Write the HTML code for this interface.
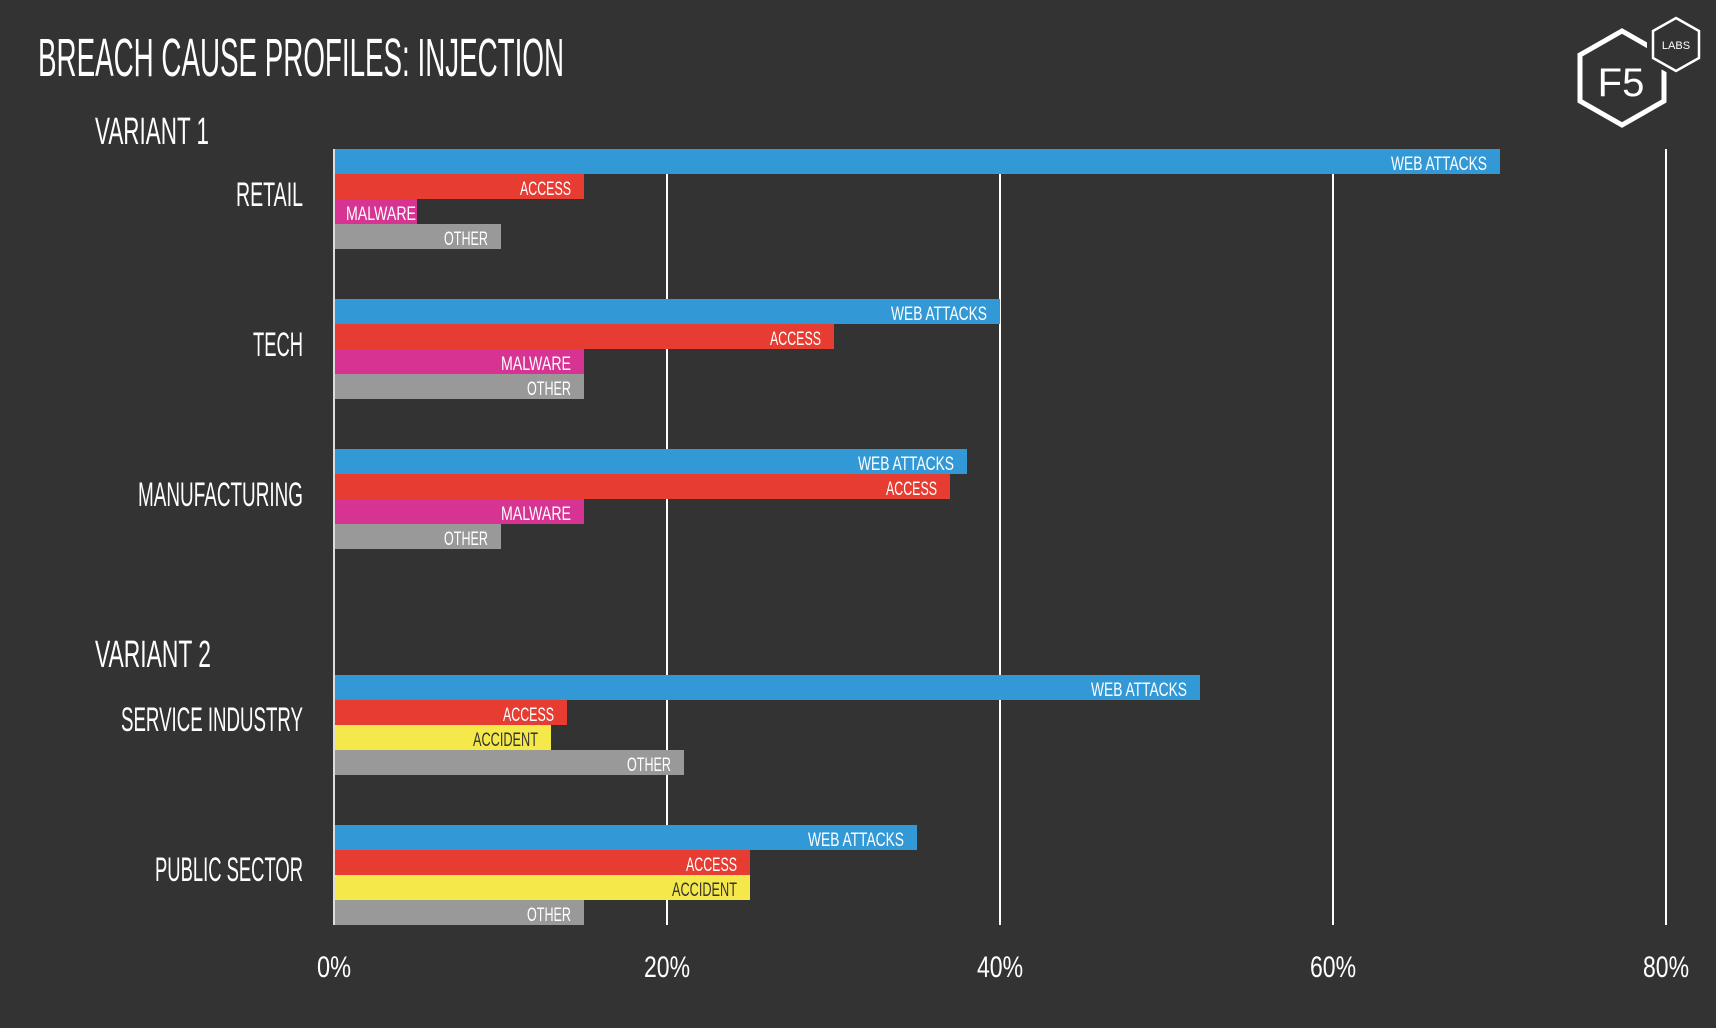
<!DOCTYPE html>
<html><head><meta charset="utf-8"><style>
html,body{margin:0;padding:0;background:#333;}
svg{display:block}
text{font-family:"Liberation Sans",sans-serif;}
</style></head><body>
<svg width="1716" height="1028" viewBox="0 0 1716 1028" xmlns="http://www.w3.org/2000/svg">
<rect width="1716" height="1028" fill="#333333"/>
<text x="38" y="76" font-size="54" fill="#fff" textLength="526" lengthAdjust="spacingAndGlyphs">BREACH CAUSE PROFILES: INJECTION</text>
<text x="95" y="144" font-size="38" fill="#fff" textLength="114" lengthAdjust="spacingAndGlyphs">VARIANT 1</text>
<text x="95" y="667" font-size="38" fill="#fff" textLength="116" lengthAdjust="spacingAndGlyphs">VARIANT 2</text>
<g fill="#fff" font-size="34" text-anchor="end">
<text x="303" y="206" textLength="67" lengthAdjust="spacingAndGlyphs">RETAIL</text>
<text x="303" y="356" textLength="50" lengthAdjust="spacingAndGlyphs">TECH</text>
<text x="303" y="506" textLength="165" lengthAdjust="spacingAndGlyphs">MANUFACTURING</text>
<text x="303" y="731" textLength="182" lengthAdjust="spacingAndGlyphs">SERVICE INDUSTRY</text>
<text x="303" y="881" textLength="148" lengthAdjust="spacingAndGlyphs">PUBLIC SECTOR</text>
</g>
<g stroke="#fff" stroke-width="2">
<line x1="667" y1="149" x2="667" y2="925"/>
<line x1="1000" y1="149" x2="1000" y2="925"/>
<line x1="1333" y1="149" x2="1333" y2="925"/>
<line x1="1666" y1="149" x2="1666" y2="925"/>
</g>
<g font-size="19" text-anchor="end">
<!-- Retail -->
<rect x="335" y="149" width="1165" height="25" fill="#3399d6"/><text x="1487" y="170" fill="#fff" textLength="96" lengthAdjust="spacingAndGlyphs">WEB ATTACKS</text>
<rect x="335" y="174" width="249" height="25" fill="#e63c31"/><text x="571" y="195" fill="#fff" textLength="51" lengthAdjust="spacingAndGlyphs">ACCESS</text>
<rect x="335" y="199" width="82" height="25" fill="#d63392"/><text x="416" y="220" fill="#fff" textLength="70" lengthAdjust="spacingAndGlyphs">MALWARE</text>
<rect x="335" y="224" width="166" height="25" fill="#999"/><text x="488" y="245" fill="#fff" textLength="44" lengthAdjust="spacingAndGlyphs">OTHER</text>
<!-- Tech -->
<rect x="335" y="299" width="665" height="25" fill="#3399d6"/><text x="987" y="320" fill="#fff" textLength="96" lengthAdjust="spacingAndGlyphs">WEB ATTACKS</text>
<rect x="335" y="324" width="499" height="25" fill="#e63c31"/><text x="821" y="345" fill="#fff" textLength="51" lengthAdjust="spacingAndGlyphs">ACCESS</text>
<rect x="335" y="349" width="249" height="25" fill="#d63392"/><text x="571" y="370" fill="#fff" textLength="70" lengthAdjust="spacingAndGlyphs">MALWARE</text>
<rect x="335" y="374" width="249" height="25" fill="#999"/><text x="571" y="395" fill="#fff" textLength="44" lengthAdjust="spacingAndGlyphs">OTHER</text>
<!-- Manufacturing -->
<rect x="335" y="449" width="632" height="25" fill="#3399d6"/><text x="954" y="470" fill="#fff" textLength="96" lengthAdjust="spacingAndGlyphs">WEB ATTACKS</text>
<rect x="335" y="474" width="615" height="25" fill="#e63c31"/><text x="937" y="495" fill="#fff" textLength="51" lengthAdjust="spacingAndGlyphs">ACCESS</text>
<rect x="335" y="499" width="249" height="25" fill="#d63392"/><text x="571" y="520" fill="#fff" textLength="70" lengthAdjust="spacingAndGlyphs">MALWARE</text>
<rect x="335" y="524" width="166" height="25" fill="#999"/><text x="488" y="545" fill="#fff" textLength="44" lengthAdjust="spacingAndGlyphs">OTHER</text>
<!-- Service -->
<rect x="335" y="675" width="865" height="25" fill="#3399d6"/><text x="1187" y="696" fill="#fff" textLength="96" lengthAdjust="spacingAndGlyphs">WEB ATTACKS</text>
<rect x="335" y="700" width="232" height="25" fill="#e63c31"/><text x="554" y="721" fill="#fff" textLength="51" lengthAdjust="spacingAndGlyphs">ACCESS</text>
<rect x="335" y="725" width="216" height="25" fill="#f5e84a"/><text x="538" y="746" fill="#333" textLength="65" lengthAdjust="spacingAndGlyphs">ACCIDENT</text>
<rect x="335" y="750" width="349" height="25" fill="#999"/><text x="671" y="771" fill="#fff" textLength="44" lengthAdjust="spacingAndGlyphs">OTHER</text>
<!-- Public -->
<rect x="335" y="825" width="582" height="25" fill="#3399d6"/><text x="904" y="846" fill="#fff" textLength="96" lengthAdjust="spacingAndGlyphs">WEB ATTACKS</text>
<rect x="335" y="850" width="415" height="25" fill="#e63c31"/><text x="737" y="871" fill="#fff" textLength="51" lengthAdjust="spacingAndGlyphs">ACCESS</text>
<rect x="335" y="875" width="415" height="25" fill="#f5e84a"/><text x="737" y="896" fill="#333" textLength="65" lengthAdjust="spacingAndGlyphs">ACCIDENT</text>
<rect x="335" y="900" width="249" height="25" fill="#999"/><text x="571" y="921" fill="#fff" textLength="44" lengthAdjust="spacingAndGlyphs">OTHER</text>
</g>
<line x1="334" y1="149" x2="334" y2="925" stroke="#ddd" stroke-width="2"/>
<g fill="#fff" font-size="30" text-anchor="middle">
<text x="334" y="977" textLength="34" lengthAdjust="spacingAndGlyphs">0%</text>
<text x="667" y="977" textLength="46" lengthAdjust="spacingAndGlyphs">20%</text>
<text x="1000" y="977" textLength="46" lengthAdjust="spacingAndGlyphs">40%</text>
<text x="1333" y="977" textLength="46" lengthAdjust="spacingAndGlyphs">60%</text>
<text x="1666" y="977" textLength="46" lengthAdjust="spacingAndGlyphs">80%</text>
</g>
<!-- logo -->
<polygon points="1622,31 1664,55 1664,101 1622,125 1580,101 1580,55" fill="none" stroke="#fff" stroke-width="5"/>
<polygon points="1676,17 1700,31 1700,58 1676,72 1652,58 1652,31" fill="#333" stroke="#333" stroke-width="10"/>
<polygon points="1676,18 1699,31 1699,58 1676,71 1653,58 1653,31" fill="#333" stroke="#fff" stroke-width="2.5"/>
<text x="1621" y="96" font-size="40" fill="#fff" text-anchor="middle">F5</text>
<text x="1676" y="49" font-size="11" fill="#fff" text-anchor="middle">LABS</text>
</svg>
</body></html>
